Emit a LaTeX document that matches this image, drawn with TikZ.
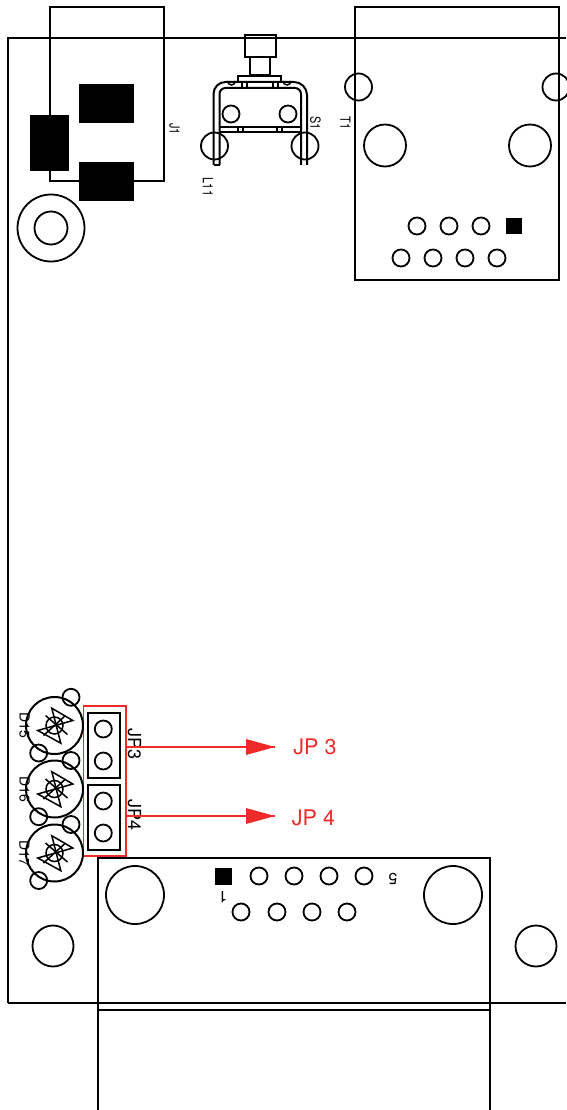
\documentclass[tikz,border=0pt]{standalone}
\usepackage{fontspec}
\setmainfont{TeX Gyre Heros}
\newcommand{\labfont}[1]{\fontsize{#1}{#1}\selectfont}
\begin{document}
\begin{tikzpicture}[x=1pt,y=-1pt,
  ln/.style={draw=black,line width=2pt},
  thn/.style={draw=black,line width=1.5pt},
  hole/.style={circle,draw=black,line width=1.8pt,minimum size=#1pt,inner sep=0pt,outer sep=0pt},
  pin/.style={hole=17},
  lab/.style={inner sep=0pt,font=\labfont{14},text=black},
  squeezed/.style={lab,rotate=-90,xscale=.78},
  redl/.style={draw=redc,line width=1.7pt},
  redlab/.style={inner sep=0pt,font=\labfont{21.5},text=redc}]
\definecolor{redc}{HTML}{EE2A2A}
\useasboundingbox (0,0) rectangle (566,1110);
% board
\draw[ln] (8,1003) -- (8,38) -- (566,38);
\draw[ln] (8,1003) -- (566,1003);
% J1
\draw[ln] (50,115) -- (50,7) -- (164,7) -- (164,181) -- (50,181) -- (50,115);
\fill[black] (79,84) rectangle (134,123);
\fill[black] (30,115) rectangle (69,171);
\fill[black] (79,162) rectangle (134,201);
\node[squeezed] (j1) at (174.5,129) {J1};
\node[hole=67] (m1) at (51,228) {};
\node[hole=33] (m2) at (51,228) {};
% switch
\draw[ln] (244.5,35) rectangle (275.5,57);
\draw[ln] (250,57) rectangle (270,75.5);
\draw[ln] (238,76) rectangle (281,82);
\draw[thn] (227.5,81) arc (180:0:4);
\draw[thn] (283,81) arc (180:0:4);
\draw[ln] (213.5,165) -- (213.5,94) arc (180:270:12) -- (294,82) arc (-90:0:13) -- (307,165);
\draw[ln] (219.5,165) -- (219.5,94) arc (180:270:6) -- (295,88) arc (-90:0:6) -- (301,165);
\draw[ln] (213.5,165) -- (219.5,165);
\draw[thn] (219.5,127) -- (301,127);
\draw[thn] (219.5,132) -- (301,132);
\foreach \x in {242,247,273,278}{\draw[thn] (\x,82) -- (\x,88);}
\foreach \x in {238,243,277,282}{\draw[thn] (\x,127) -- (\x,132);}
\node[hole=17] (s1a) at (231,114) {};
\node[hole=17] (s1b) at (288,114) {};
\node[hole=27] (l1a) at (214.5,146) {};
\node[hole=27] (l1b) at (305,146) {};
\node[squeezed] (s1) at (315.5,123) {S1};
\node[squeezed] (l11) at (208,187) {L11};
\node[squeezed] (t1) at (345.5,123) {T1};
% T1
\draw[ln] (355,38) -- (355,7) -- (559,7) -- (559,280) -- (355,280) -- cycle;
\node[hole=27] (t1a) at (358.5,87) {};
\node[hole=27] (t1b) at (556,87) {};
\node[hole=42] (t1c) at (385,145.5) {};
\node[hole=42] (t1d) at (530,145.5) {};
\foreach \x/\n in {417/a,449/b,481/c}{\node[pin] (p\n) at (\x,226) {};}
\fill[black] (506,218) rectangle (522,234);
\foreach \x/\n in {401/d,433/e,465/f,497/g}{\node[pin] (p\n) at (\x,258) {};}
% JP frame
\node[lab,rotate=-90,font=\labfont{18}] (jp3) at (134.5,744) {JP3};
\node[lab,rotate=-90,font=\labfont{18}] (jp4) at (134.5,815) {JP4};
\draw[redl] (83.5,706) rectangle (126,856);
\draw[ln] (87.5,712.5) rectangle (120,777.5);
\draw[ln] (87.5,784.5) rectangle (120,849.5);
\node[hole=17] (j3a) at (103.3,729) {};
\node[hole=17] (j3b) at (103.3,761) {};
\node[hole=17] (j4a) at (103.3,801) {};
\node[hole=17] (j4b) at (103.3,833) {};
\foreach \y/\n/\t in {725.5/a/D15,789/b/D16,853/c/D17}{
  \node[lab,rotate=-90] (d\n) at (24.5,\y) {\t};
  \begin{scope}[shift={(54.5,\y)}]
  \draw[ln] (0,0) circle (28.5);
  \draw[thn] (0,0) circle (8.5);
  \draw[thn] (-16.7,5) -- (18.3,-5) -- (-2.7,-17.3) -- (6.3,17.7) -- cycle;
  \draw[thn] (-9,-10) -- (13,9);
  \draw[thn] (-11,10) -- (11,-10);
  \end{scope}
}
\node[hole=17] (da1) at (71,697.3) {};
\node[hole=17] (da2) at (38.7,753) {};
\node[hole=17] (db1) at (71,760.5) {};
\node[hole=17] (db2) at (38.7,816.7) {};
\node[hole=17] (dc1) at (71,824.5) {};
\node[hole=17] (dc2) at (38.7,880.5) {};
% arrows
\coordinate (a1s) at (126,747); \coordinate (a2s) at (126,816);
\node[redlab] (tj3) at (315,746.5) {JP 3};
\node[redlab] (tj4) at (313.5,817.5) {JP 4};
\coordinate (a1e) at (275,747); \coordinate (a2e) at (275,816);
\draw[redl] (a1s) -- (a1e);
\draw[redl] (a2s) -- (a2e);
\fill[redc] (a1e) -- (246,739) -- (246,755) -- cycle;
\fill[redc] (a2e) -- (246,808) -- (246,824) -- cycle;
% connector
\draw[ln] (98,1110) -- (98,858) -- (490,858) -- (490,1110);
\draw[ln] (98,1010) -- (490,1010);
\node[hole=58] (c1) at (135,895) {};
\node[hole=58] (c2) at (453,895) {};
\node[hole=41] (c3) at (53,946) {};
\node[hole=41] (c4) at (536,946) {};
\fill[black] (215,868) rectangle (232,885);
\foreach \x/\n in {259/a,294/b,329/c,364/d}{\node[pin] (q\n) at (\x,876) {};}
\foreach \x/\n in {241/e,277/f,312/g,347/h}{\node[pin] (q\n) at (\x,912) {};}
\node[lab,rotate=180,font=\labfont{16}] (one) at (223,897) {1};
\node[lab,rotate=180,font=\labfont{16}] (five) at (393,879) {5};
\end{tikzpicture}
\end{document}
